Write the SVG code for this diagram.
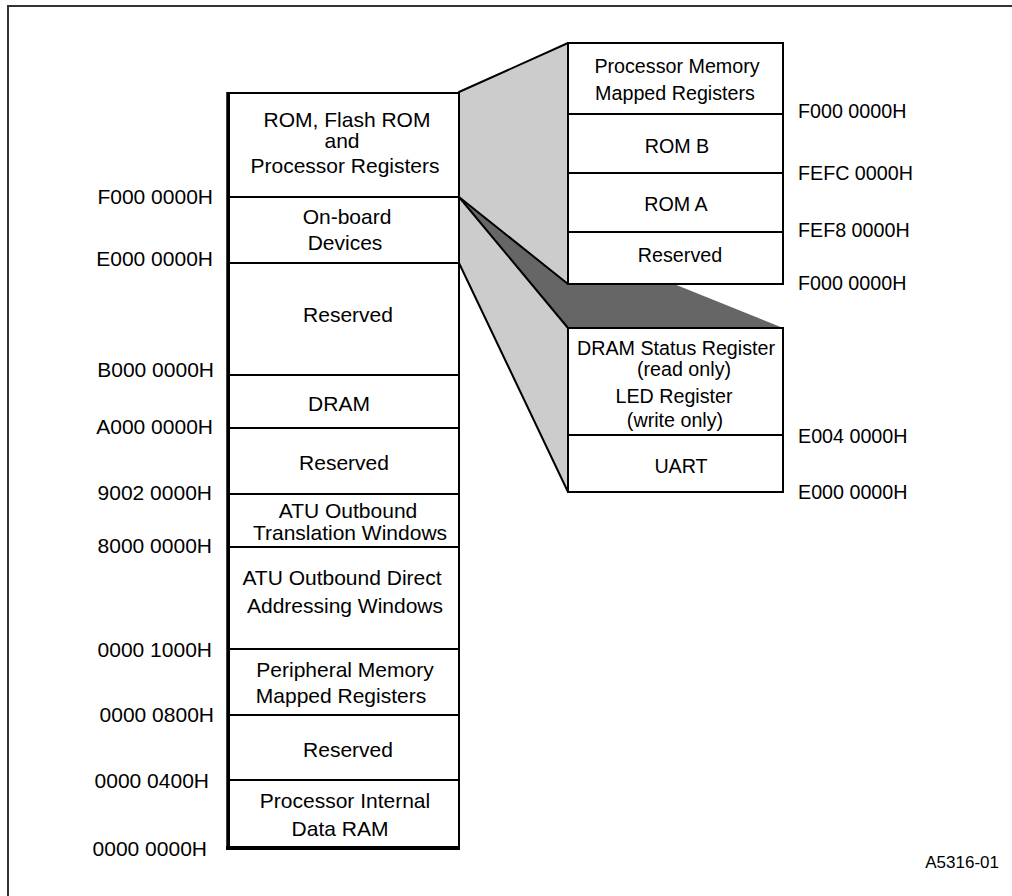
<svg xmlns="http://www.w3.org/2000/svg" width="1012" height="896" viewBox="0 0 1012 896">
<style>
text{font-family:"Liberation Sans",Arial,sans-serif;font-size:21px;fill:#000}
.r text{font-size:19.7px}
.c{text-anchor:middle}
.e{text-anchor:end}
.box{fill:#fff;stroke:#000;stroke-width:2}
.lg{fill:#cccccc;stroke:#000;stroke-width:2;stroke-linejoin:round}
.dg{fill:#666666;stroke:none}
</style>
<rect x="0" y="0" width="1012" height="896" fill="#fff"/>
<path d="M8 896 V6 H1012" fill="none" stroke="#333" stroke-width="2"/>

<g id="connectors">
  <polygon class="dg" points="458,197 568,328 783,328"/>
  <polygon class="lg" points="459,92 568,43 568,284 459,197"/>
  <polygon class="lg" points="459,197 568,328 568,492 459,263"/>
</g>

<g id="left-column">
  <g id="seg-rom"><rect class="box" x="229" y="93" width="230" height="104"/>
    <text class="c" x="347" y="127">ROM, Flash ROM</text>
    <text class="c" x="342" y="148">and</text>
    <text class="c" x="345" y="173">Processor Registers</text></g>
  <g id="seg-onboard"><rect class="box" x="229" y="197" width="230" height="66"/>
    <text class="c" x="347" y="224">On-board</text>
    <text class="c" x="345" y="250">Devices</text></g>
  <g id="seg-res1"><rect class="box" x="229" y="263" width="230" height="112"/>
    <text class="c" x="348" y="322">Reserved</text></g>
  <g id="seg-dram"><rect class="box" x="229" y="375" width="230" height="53"/>
    <text class="c" x="339" y="411">DRAM</text></g>
  <g id="seg-res2"><rect class="box" x="229" y="428" width="230" height="66"/>
    <text class="c" x="344" y="470">Reserved</text></g>
  <g id="seg-atu-otw"><rect class="box" x="229" y="494" width="230" height="53"/>
    <text class="c" x="348" y="518">ATU Outbound</text>
    <text class="c" x="350" y="540">Translation Windows</text></g>
  <g id="seg-atu-odaw"><rect class="box" x="229" y="547" width="230" height="102"/>
    <text class="c" x="342" y="585">ATU Outbound Direct</text>
    <text class="c" x="345" y="613">Addressing Windows</text></g>
  <g id="seg-pmmr"><rect class="box" x="229" y="649" width="230" height="66"/>
    <text class="c" x="345" y="677">Peripheral Memory</text>
    <text class="c" x="341" y="703">Mapped Registers</text></g>
  <g id="seg-res3"><rect class="box" x="229" y="715" width="230" height="65"/>
    <text class="c" x="348" y="757">Reserved</text></g>
  <g id="seg-pidr"><rect class="box" x="229" y="780" width="230" height="68"/>
    <text class="c" x="345" y="808">Processor Internal</text>
    <text class="c" x="340" y="836">Data RAM</text></g>
  <line x1="228" y1="92" x2="228" y2="850" stroke="#000" stroke-width="3.5"/>
  <line x1="226" y1="848" x2="460" y2="848" stroke="#000" stroke-width="4"/>
</g>

<g id="left-labels">
  <text class="e" x="213" y="204">F000 0000H</text>
  <text class="e" x="213" y="266">E000 0000H</text>
  <text class="e" x="214" y="377">B000 0000H</text>
  <text class="e" x="213" y="434">A000 0000H</text>
  <text class="e" x="212" y="500">9002 0000H</text>
  <text class="e" x="212" y="553">8000 0000H</text>
  <text class="e" x="212" y="657">0000 1000H</text>
  <text class="e" x="214" y="722">0000 0800H</text>
  <text class="e" x="209" y="788">0000 0400H</text>
  <text class="e" x="207" y="856">0000 0000H</text>
</g>

<g id="rom-detail" class="r">
  <g id="pmmr-top"><rect class="box" x="568" y="43" width="215" height="71"/>
    <text class="c" x="677" y="73">Processor Memory</text>
    <text class="c" x="675" y="100">Mapped Registers</text></g>
  <g id="rom-b"><rect class="box" x="568" y="114" width="215" height="59"/>
    <text class="c" x="677" y="153">ROM B</text></g>
  <g id="rom-a"><rect class="box" x="568" y="173" width="215" height="59"/>
    <text class="c" x="676" y="211">ROM A</text></g>
  <g id="rom-res"><rect class="box" x="568" y="232" width="215" height="52"/>
    <text class="c" x="680" y="262">Reserved</text></g>
  <text x="798" y="118">F000 0000H</text>
  <text x="798" y="180">FEFC 0000H</text>
  <text x="798" y="237">FEF8 0000H</text>
  <text x="798" y="290">F000 0000H</text>
</g>

<g id="onboard-detail" class="r">
  <g id="dram-status"><rect class="box" x="568" y="328" width="215" height="107"/>
    <text class="c" x="676" y="355">DRAM Status Register</text>
    <text class="c" x="684" y="376">(read only)</text>
    <text class="c" x="674" y="403">LED Register</text>
    <text class="c" x="675" y="427">(write only)</text></g>
  <g id="uart"><rect class="box" x="568" y="435" width="215" height="57"/>
    <text class="c" x="681" y="473">UART</text></g>
  <text x="798" y="443">E004 0000H</text>
  <text x="798" y="499">E000 0000H</text>
</g>

<text class="e" x="999" y="868" style="font-size:17px">A5316-01</text>
</svg>
